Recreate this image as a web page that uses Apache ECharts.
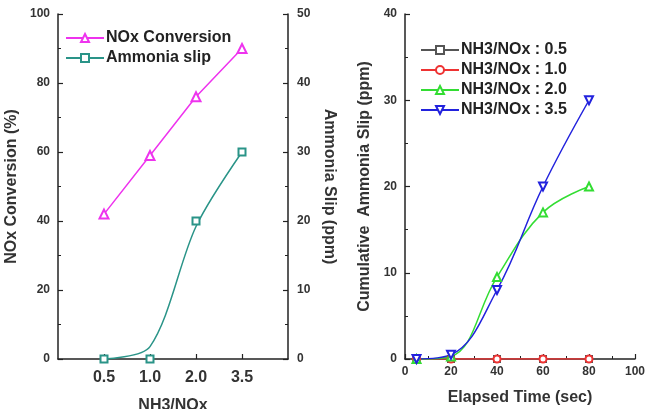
<!DOCTYPE html>
<html>
<head>
<meta charset="utf-8">
<script src="https://cdn.jsdelivr.net/npm/echarts@6/dist/echarts.min.js"></script>
<style>
  html, body { margin: 0; padding: 0; background: #fff; }
  #main { width: 657px; height: 409px; }
</style>
</head>
<body>
<div id="main"></div>
<script>
// left panel: NH3/NOx ratio
var ratioLabels = ['0.5', '1.0', '2.0', '3.5'];
var noxConversion = [42, 59, 76, 90];
var ammoniaSlip = [0, 0, 20, 30];
// fitted curve drawn through the slip points
var ammoniaSlipFit = [0, 1.8, 19.2, 30];

// right panel: elapsed time (sec) vs cumulative slip (ppm)
var elapsed = [5, 20, 40, 60, 80];
var slip05 = [0, 0, 0, 0, 0];
var slip10 = [0, 0, 0, 0, 0];
var slip20 = [0, 0.3, 9.5, 17, 20];
var slip35 = [0, 0.5, 8, 20, 30];

var font = 'Liberation Sans, Arial, sans-serif';
var axisColor = '#222';

function pairs(xs, ys) {
  return xs.map(function (x, i) { return [x, ys[i]]; });
}
// category axis has an empty slot at each end
var cats = [''].concat(ratioLabels, ['']);
function padded(arr) { return ['-'].concat(arr, ['-']); }

var lineAxis = { show: true, lineStyle: { color: axisColor, width: 1.5 } };
var tickStyle = { show: true, inside: true, length: 5, lineStyle: { color: axisColor, width: 1.2 } };
var minorStyle = { show: true, splitNumber: 2, length: 3, lineStyle: { color: axisColor, width: 1 } };
var lblStyle = { color: '#333', fontFamily: font, fontWeight: 'bold', fontSize: 12 };
var nameStyle = { color: '#333', fontFamily: font, fontWeight: 'bold', fontSize: 16 };
var legendText = { color: '#222', fontFamily: font, fontWeight: 'bold', fontSize: 16, padding: [0, 0, 0, -3] };

var chart = echarts.init(document.getElementById('main'));

var option = {
  backgroundColor: '#fff',
  animation: false,
  grid: [
    { left: 58, right: 369, top: 14, bottom: 50, outerBoundsMode: 'none' },
    { left: 405, right: 22, top: 14, bottom: 50, outerBoundsMode: 'none' }
  ],
  legend: [
    {
      data: ['NOx Conversion', 'Ammonia slip'],
      orient: 'vertical', left: 60, top: 25,
      itemWidth: 38, itemHeight: 10, itemGap: 4,
      textStyle: legendText
    },
    {
      data: ['NH3/NOx : 0.5', 'NH3/NOx : 1.0', 'NH3/NOx : 2.0', 'NH3/NOx : 3.5'],
      orient: 'vertical', left: 415, top: 37,
      itemWidth: 38, itemHeight: 10, itemGap: 4,
      textStyle: legendText
    }
  ],
  xAxis: [
    {
      gridIndex: 0, type: 'category', data: cats, boundaryGap: false,
      name: 'NH3/NOx', nameLocation: 'middle', nameGap: 39,
      nameTextStyle: nameStyle,
      axisLine: lineAxis,
      axisTick: { show: true, inside: true, length: 5, lineStyle: { color: axisColor, width: 1.2 },
        interval: function (i) { return i > 0 && i < cats.length - 1; } },
      axisLabel: { color: '#333', fontFamily: font, fontWeight: 'bold', fontSize: 16, margin: 11 },
      splitLine: { show: false }
    },
    {
      gridIndex: 1, type: 'value', min: 0, max: 100, interval: 20,
      name: 'Elapsed Time (sec)', nameLocation: 'middle', nameGap: 31,
      nameTextStyle: nameStyle,
      axisLine: lineAxis, axisTick: tickStyle, minorTick: minorStyle,
      axisLabel: Object.assign({ margin: 7 }, lblStyle),
      splitLine: { show: false }
    }
  ],
  yAxis: [
    {
      gridIndex: 0, type: 'value', min: 0, max: 100, interval: 20,
      name: 'NOx Conversion (%)', nameLocation: 'middle', nameGap: 38,
      nameTextStyle: nameStyle,
      axisLine: lineAxis, axisTick: tickStyle, minorTick: minorStyle,
      axisLabel: Object.assign({ margin: 8 }, lblStyle),
      splitLine: { show: false }
    },
    {
      gridIndex: 0, type: 'value', position: 'right', min: 0, max: 50, interval: 10,
      name: 'Ammonia Slip (ppm)', nameLocation: 'middle', nameGap: 33, nameRotate: -90,
      nameTextStyle: nameStyle,
      axisLine: lineAxis, axisTick: tickStyle, minorTick: minorStyle,
      axisLabel: Object.assign({ margin: 9 }, lblStyle),
      splitLine: { show: false }
    },
    {
      gridIndex: 1, type: 'value', min: 0, max: 40, interval: 10,
      name: 'Cumulative  Ammonia Slip (ppm)', nameLocation: 'middle', nameGap: 32,
      nameTextStyle: nameStyle,
      axisLine: lineAxis, axisTick: tickStyle, minorTick: minorStyle,
      axisLabel: Object.assign({ margin: 8 }, lblStyle),
      splitLine: { show: false }
    }
  ],
  series: [
    {
      name: 'NOx Conversion', type: 'line', xAxisIndex: 0, yAxisIndex: 0,
      data: padded(noxConversion), symbol: 'emptyTriangle', symbolSize: 9,
      itemStyle: { color: '#ee33ee' }, lineStyle: { width: 1.5 }
    },
    {
      name: 'Ammonia slip', type: 'line', xAxisIndex: 0, yAxisIndex: 1,
      data: padded(ammoniaSlipFit), symbol: 'emptyRect', symbolSize: 7, showSymbol: false, smooth: 0.3,
      itemStyle: { color: '#2a9488' }, lineStyle: { width: 1.5 }
    },
    {
      name: 'Ammonia slip', type: 'line', xAxisIndex: 0, yAxisIndex: 1,
      data: padded(ammoniaSlip), symbol: 'emptyRect', symbolSize: 7,
      itemStyle: { color: '#2a9488' }, lineStyle: { width: 0, opacity: 0 }
    },
    {
      name: 'NH3/NOx : 0.5', type: 'line', xAxisIndex: 1, yAxisIndex: 2,
      data: pairs(elapsed, slip05), symbol: 'emptyRect', symbolSize: 6,
      itemStyle: { color: '#555' }, lineStyle: { width: 1.5 }
    },
    {
      name: 'NH3/NOx : 1.0', type: 'line', xAxisIndex: 1, yAxisIndex: 2,
      data: pairs(elapsed, slip10), symbol: 'emptyCircle', symbolSize: 7,
      itemStyle: { color: '#e33' }, lineStyle: { width: 1.5 }
    },
    {
      name: 'NH3/NOx : 2.0', type: 'line', xAxisIndex: 1, yAxisIndex: 2,
      data: pairs(elapsed, slip20), symbol: 'emptyTriangle', symbolSize: 8, smooth: 0.4,
      itemStyle: { color: '#33dd33' }, lineStyle: { width: 1.5 }
    },
    {
      name: 'NH3/NOx : 3.5', type: 'line', xAxisIndex: 1, yAxisIndex: 2,
      data: pairs(elapsed, slip35), symbol: 'emptyTriangle', symbolRotate: 180, symbolSize: 8, smooth: 0.4,
      itemStyle: { color: '#2222dd' }, lineStyle: { width: 1.5 }
    }
  ]
};

chart.setOption(option);
</script>
</body>
</html>
